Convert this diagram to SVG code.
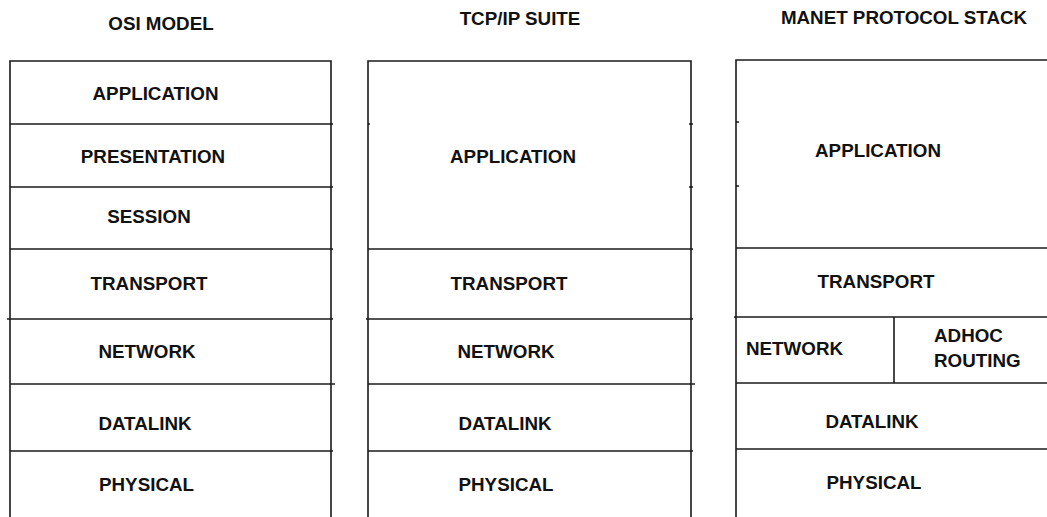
<svg xmlns="http://www.w3.org/2000/svg" width="1047" height="517" viewBox="0 0 1047 517">
<style>
.ln{stroke:#1a1a1a;stroke-width:1.6;fill:none}
.t{font-family:"Liberation Sans",Arial,sans-serif;font-weight:bold;font-size:18.8px;fill:#111;text-anchor:middle}
.tl{font-family:"Liberation Sans",Arial,sans-serif;font-weight:bold;font-size:18.8px;fill:#111;text-anchor:start}
</style>
<rect width="1047" height="517" fill="#fff"/>
<g id="headings">
<text class="t" x="161" y="30">OSI MODEL</text>
<text class="t" x="520" y="25">TCP/IP SUITE</text>
<text class="t" x="904" y="24">MANET PROTOCOL STACK</text>
</g>
<g id="osi-frame"><path class="ln" d="M10,517 V61 H331 V517"/></g>
<g id="osi-application"><text class="t" x="155.5" y="100">APPLICATION</text></g>
<g id="osi-presentation"><path class="ln" d="M10,124 H333"/><text class="t" x="153" y="163">PRESENTATION</text></g>
<g id="osi-session"><path class="ln" d="M10,187 H333"/><text class="t" x="149" y="223">SESSION</text></g>
<g id="osi-transport"><path class="ln" d="M10,249 H333"/><text class="t" x="149" y="290">TRANSPORT</text></g>
<g id="osi-network"><path class="ln" d="M7,319 H333"/><text class="t" x="147" y="358">NETWORK</text></g>
<g id="osi-datalink"><path class="ln" d="M10,384 H335"/><text class="t" x="145" y="430">DATALINK</text></g>
<g id="osi-physical"><path class="ln" d="M10,451 H333"/><text class="t" x="146.5" y="491">PHYSICAL</text></g>
<g id="tcp-frame"><path class="ln" d="M368,517 V61 H691 V517"/><path class="ln" d="M368,124 h2 M689,124 h4 M689,187 h4"/></g>
<g id="tcp-application"><text class="t" x="513" y="163">APPLICATION</text></g>
<g id="tcp-transport"><path class="ln" d="M368,249 H693"/><text class="t" x="509" y="290">TRANSPORT</text></g>
<g id="tcp-network"><path class="ln" d="M366,319 H693"/><text class="t" x="506" y="358">NETWORK</text></g>
<g id="tcp-datalink"><path class="ln" d="M368,384 H695"/><text class="t" x="505" y="430">DATALINK</text></g>
<g id="tcp-physical"><path class="ln" d="M368,451 H693"/><text class="t" x="506" y="491">PHYSICAL</text></g>
<g id="manet-frame"><path class="ln" d="M736,517 V60 H1047"/><path class="ln" d="M736,122 h3 M736,186 h3"/></g>
<g id="manet-application"><text class="t" x="878" y="157">APPLICATION</text></g>
<g id="manet-transport"><path class="ln" d="M736,248 H1047"/><text class="t" x="876" y="288">TRANSPORT</text></g>
<g id="manet-network"><path class="ln" d="M734,317 H1047"/><text class="tl" x="746" y="355">NETWORK</text></g>
<g id="manet-adhoc"><path class="ln" d="M894,317 V383"/><text class="tl" x="934" y="342">ADHOC</text><text class="tl" x="934" y="367">ROUTING</text></g>
<g id="manet-datalink"><path class="ln" d="M736,383 H1047"/><text class="t" x="872" y="428">DATALINK</text></g>
<g id="manet-physical"><path class="ln" d="M736,449 H1047"/><text class="t" x="874" y="489">PHYSICAL</text></g>
<g id="connectors"></g>
</svg>
